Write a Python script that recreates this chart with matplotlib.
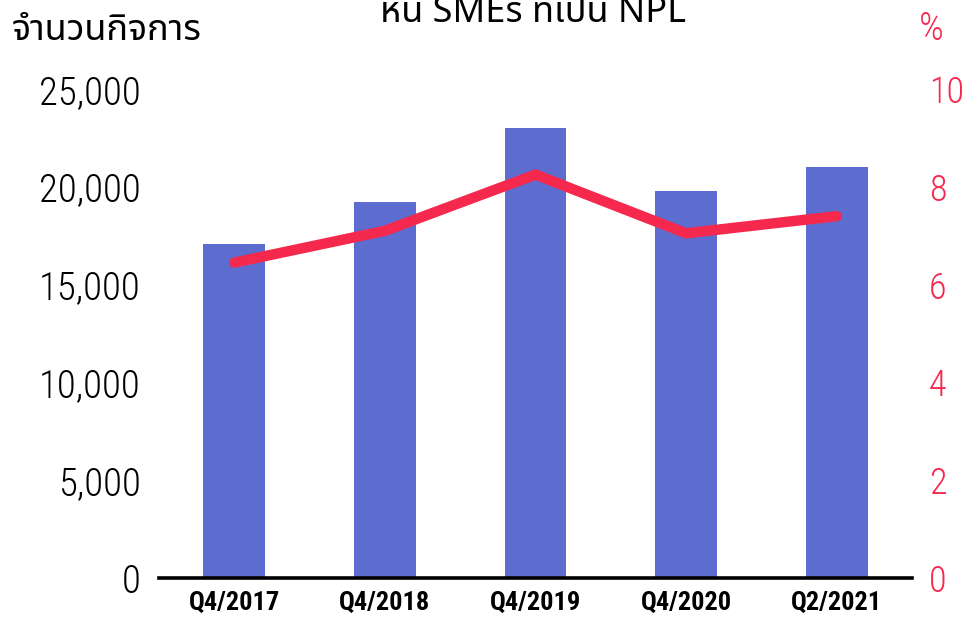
import matplotlib
matplotlib.use('Agg')
import matplotlib.pyplot as plt
import numpy as np

# data
periods = ['Q4/2017', 'Q4/2018', 'Q4/2019', 'Q4/2020', 'Q2/2021']
firms = [17100, 19200, 23000, 19800, 21000]
npl_pct = [6.45, 7.1, 8.25, 7.05, 7.4]
left_ticks = [0, 5000, 10000, 15000, 20000, 25000]
right_ticks = [0, 2, 4, 6, 8, 10]

bar_color = '#5d6dcf'
line_color = '#f5284e'
fonts = ['Roboto Condensed', 'Noto Sans Thai', 'DejaVu Sans']

fig = plt.figure(figsize=(9.67, 6.19), dpi=100)
ax = fig.add_axes([0.1644, 0.0662, 0.7787, 0.79])
x = np.arange(len(periods))
ax.bar(x, firms, width=0.41, color=bar_color, zorder=2)
ax.set_xlim(-0.5, len(periods) - 0.5)
ax.set_ylim(0, 25000)
ax.set_yticks(left_ticks)
ax.set_yticklabels([f'{v:,}' for v in left_ticks], fontsize=28, color='black',
                   family=fonts, fontweight='light')
ax.set_xticks(x)
ax.set_xticklabels(periods, fontsize=19, fontweight='bold', family=fonts, color='black')
ax.tick_params(axis='both', length=0)
ax.tick_params(axis='y', pad=13)
ax.tick_params(axis='x', pad=9)
for s in ['top', 'left', 'right']:
    ax.spines[s].set_visible(False)
ax.spines['bottom'].set_linewidth(2.6)
ax.spines['bottom'].set_color('black')
ax.spines['bottom'].set_zorder(5)

ax2 = ax.twinx()
ax2.plot(x, npl_pct, color=line_color, linewidth=7.5, solid_capstyle='round',
         solid_joinstyle='miter', zorder=3)
ax2.set_ylim(0, 10)
ax2.set_yticks(right_ticks)
ax2.set_yticklabels([str(v) for v in right_ticks], fontsize=26, color=line_color,
                    family=fonts, fontweight='light')
ax2.tick_params(axis='y', length=0, pad=12)
for s in ['top', 'left', 'right', 'bottom']:
    ax2.spines[s].set_visible(False)

fig.text(0.012, 1 - 40 / 619, 'จำนวนกิจการ', fontsize=26, family=['Noto Sans Thai'],
         color='black', va='baseline', ha='left', fontweight='light')
fig.text(0.9635, 1 - 40 / 619, '%', fontsize=28, family=fonts, color=line_color,
         va='baseline', ha='center', fontweight='light')
fig.text(0.551, 1 - 22 / 619, 'หนี้ SMEs ที่เป็น NPL', fontsize=26, family=['Noto Sans Thai'],
         color='black', va='baseline', ha='center')

fig.savefig('out.png', dpi=100)
